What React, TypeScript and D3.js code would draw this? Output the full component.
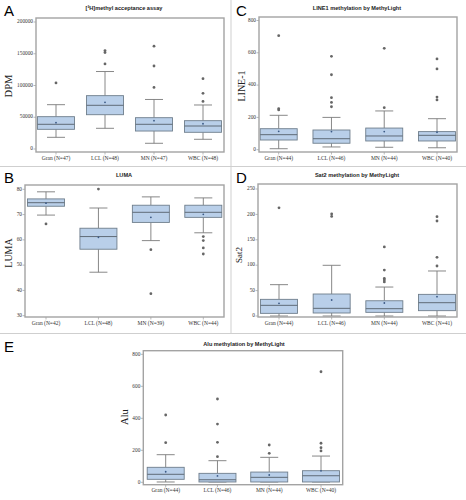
import React from "react";
import * as d3 from "d3";

const CATS = ["Gran", "LCL", "MN", "WBC"];

// Panel A: [3H]methyl acceptance assay (DPM)
const A_N = [47, 48, 47, 48];
const A_LOW = [18400, 32600, 9000, 15300];
const A_Q1 = [31000, 54000, 28300, 26300];
const A_MED = [38900, 68800, 38900, 36200];
const A_Q3 = [50900, 84000, 49300, 44600];
const A_HIGH = [69800, 122000, 78000, 69300];
const A_MEAN = [41400, 73500, 44600, 39800];
const A_OUT = [[104000], [155000, 152000, 134000], [162000, 130700, 97000], [110700, 87700, 75000]];
const A_TICKS = [0, 50000, 100000, 150000, 200000];

// Panel B: LUMA
const B_N = [42, 48, 39, 44];
const B_LOW = [69.8, 47.2, 59.7, 62.8];
const B_Q1 = [73.3, 56.3, 66.9, 68.9];
const B_MED = [74.7, 61.3, 70.9, 70.9];
const B_Q3 = [76.2, 64.6, 73.7, 73.7];
const B_HIGH = [79.0, 72.6, 77.0, 76.6];
const B_MEAN = [74.5, 61.0, 68.9, 70.1];
const B_OUT = [[66.3], [80.1], [56.1, 38.7], [61.3, 59.7, 56.8, 54.4]];
const B_TICKS = [30, 40, 50, 60, 70, 80];

// Panel C: LINE1
const C_N = [44, 46, 44, 40];
const C_LOW = [6, 17, 15, 12];
const C_Q1 = [60, 40, 54, 54];
const C_MED = [93, 68, 85, 89];
const C_Q3 = [130, 122, 134, 112];
const C_HIGH = [213, 200, 240, 192];
const C_MEAN = [114, 112, 112, 108];
const C_OUT = [[706, 254, 246], [578, 464, 322, 293, 266], [628, 260], [562, 500, 326, 308]];
const C_TICKS = [0, 200, 400, 600, 800];

// Panel D: Sat2
const D_N = [44, 46, 44, 41];
const D_LOW = [0, 0, 0, 0];
const D_Q1 = [5.2, 5.9, 7.2, 10.5];
const D_MED = [21, 15.1, 14.4, 26.2];
const D_Q3 = [32.8, 43.3, 30, 42.6];
const D_HIGH = [61.7, 99.8, 57, 88.6];
const D_MEAN = [25, 31.5, 25.6, 38];
const D_OUT = [[213], [200.8, 196], [136, 90.5, 74, 70.9, 67], [195.5, 187, 115.5, 98.4]];
const D_TICKS = [0, 50, 100, 150, 200, 250];

// Panel E: Alu
const E_N = [44, 46, 44, 40];
const E_LOW = [2, 2, 2, 2];
const E_Q1 = [18.7, 2, 2, 2];
const E_MED = [50, 16, 31, 41];
const E_Q3 = [93.7, 56, 64, 72.5];
const E_HIGH = [172.5, 135, 156, 164];
const E_MEAN = [66, 40, 45.6, 72];
const E_OUT = [[420.6, 247.5], [520.6, 364, 250, 160], [233, 181], [691, 244, 216, 196]];
const E_TICKS = [0, 200, 400, 600, 800];

type PanelProps = {
  letter: string;
  letterX: number;
  letterY: number;
  title: string;
  titleX: number;
  titleY: number;
  ylabel: string;
  ylabelX: number;
  ylabelY: number;
  ylabelSize: number;
  frame: [number, number, number, number]; // x0,y0,x1,y1
  yDomain: [number, number];
  yRange: [number, number];
  xRange: [number, number];
  ticks: number[];
  n: number[];
  low: number[];
  q1: number[];
  med: number[];
  q3: number[];
  high: number[];
  mean: number[];
  out: number[][];
};

const BOX_FILL = "#b9cfe9";
const BOX_STROKE = "#6f7e8c";
const WHISK = "#7a7a7a";

function Panel(p: PanelProps) {
  const [fx0, fy0, fx1, fy1] = p.frame;
  const y = d3.scaleLinear().domain(p.yDomain).range(p.yRange);
  const x = d3.scalePoint<string>().domain(CATS).range(p.xRange);
  const bw = 37;
  const cap = 18;
  return (
    <g>
      <text x={p.letterX} y={p.letterY} fontFamily="Liberation Sans, Arial, sans-serif" fontSize={15} fill="#000">
        {p.letter}
      </text>
      <text x={p.titleX} y={p.titleY} textAnchor="middle" fontFamily="Liberation Sans, Arial, sans-serif" fontWeight="bold" fontSize={5.6} fill="#222">
        {p.title}
      </text>
      <text
        transform={`translate(${p.ylabelX},${p.ylabelY}) rotate(-90)`}
        textAnchor="middle"
        dominantBaseline="middle"
        fontFamily="Liberation Serif, Times New Roman, serif"
        fontSize={p.ylabelSize}
        fill="#222"
      >
        {p.ylabel}
      </text>
      {p.ticks.map((t) => (
        <g key={"yt" + t}>
          <line x1={fx0 - 2.5} x2={fx0} y1={y(t)} y2={y(t)} stroke="#888" strokeWidth={0.6} />
          <text x={fx0 - 3} y={y(t)} textAnchor="end" dominantBaseline="middle" fontFamily="Liberation Serif, Times New Roman, serif" fontSize={5.3} fill="#333">
            {t}
          </text>
        </g>
      ))}
      {CATS.map((c, i) => (
        <g key={"xt" + c}>
          <line x1={x(c)} x2={x(c)} y1={fy1} y2={fy1 + 2.5} stroke="#888" strokeWidth={0.6} />
          <text x={x(c)} y={fy1 + 7.5} textAnchor="middle" fontFamily="Liberation Serif, Times New Roman, serif" fontSize={5.5} fill="#333">
            {`${c} (N=${p.n[i]})`}
          </text>
        </g>
      ))}
      {CATS.map((c, i) => {
        const cx = x(c) as number;
        return (
          <g key={"b" + c}>
            <line x1={cx} x2={cx} y1={y(p.q3[i])} y2={y(p.high[i])} stroke={WHISK} strokeWidth={0.9} />
            <line x1={cx} x2={cx} y1={y(p.q1[i])} y2={y(p.low[i])} stroke={WHISK} strokeWidth={0.9} />
            <line x1={cx - cap / 2} x2={cx + cap / 2} y1={y(p.high[i])} y2={y(p.high[i])} stroke={WHISK} strokeWidth={0.9} />
            <line x1={cx - cap / 2} x2={cx + cap / 2} y1={y(p.low[i])} y2={y(p.low[i])} stroke={WHISK} strokeWidth={0.9} />
            <rect x={cx - bw / 2} y={y(p.q3[i])} width={bw} height={y(p.q1[i]) - y(p.q3[i])} fill={BOX_FILL} stroke={BOX_STROKE} strokeWidth={0.9} />
            <line x1={cx - bw / 2} x2={cx + bw / 2} y1={y(p.med[i])} y2={y(p.med[i])} stroke="#5f6b77" strokeWidth={1} />
            <circle cx={cx} cy={y(p.mean[i])} r={0.9} fill="#3b5a86" />
            {p.out[i].map((v, j) => (
              <circle key={j} cx={cx} cy={y(v)} r={1.4} fill="#666" />
            ))}
          </g>
        );
      })}
      <rect x={fx0} y={fy0} width={fx1 - fx0} height={fy1 - fy0} fill="none" stroke="#a3a3a3" strokeWidth={1.4} />
    </g>
  );
}

export default function App() {
  return (
    <svg width={466} height={500} style={{ position: "absolute", left: 0, top: 0, background: "#fff" }}>
      <rect x={0} y={0} width={466} height={500} fill="#fff" />
      <line x1={0} x2={466} y1={166.5} y2={166.5} stroke="#cfcfcf" strokeWidth={1} />
      <line x1={0} x2={466} y1={333.5} y2={333.5} stroke="#cfcfcf" strokeWidth={1} />
      <line x1={231} x2={231} y1={0} y2={333.5} stroke="#cfcfcf" strokeWidth={1} />

      <Panel
        letter="A" letterX={4} letterY={16}
        title="[³H]methyl acceptance assay" titleX={124} titleY={10}
        ylabel="DPM" ylabelX={10} ylabelY={86} ylabelSize={10.5}
        frame={[36, 18, 224, 152]}
        yDomain={[0, 200000]} yRange={[149, 22]} xRange={[56, 203]}
        ticks={A_TICKS} n={A_N}
        low={A_LOW} q1={A_Q1} med={A_MED} q3={A_Q3} high={A_HIGH} mean={A_MEAN} out={A_OUT}
      />
      <Panel
        letter="C" letterX={236} letterY={16}
        title="LINE1 methylation by MethyLight" titleX={357} titleY={10}
        ylabel="LINE-1" ylabelX={243} ylabelY={86} ylabelSize={10}
        frame={[259, 17, 457, 152]}
        yDomain={[0, 800]} yRange={[149.7, 20.5]} xRange={[278.7, 437]}
        ticks={C_TICKS} n={C_N}
        low={C_LOW} q1={C_Q1} med={C_MED} q3={C_Q3} high={C_HIGH} mean={C_MEAN} out={C_OUT}
      />
      <Panel
        letter="B" letterX={4} letterY={183}
        title="LUMA" titleX={124} titleY={177}
        ylabel="LUMA" ylabelX={10} ylabelY={253} ylabelSize={10}
        frame={[25, 185, 224, 317]}
        yDomain={[30, 80]} yRange={[315.7, 189.3]} xRange={[46, 203.3]}
        ticks={B_TICKS} n={B_N}
        low={B_LOW} q1={B_Q1} med={B_MED} q3={B_Q3} high={B_HIGH} mean={B_MEAN} out={B_OUT}
      />
      <Panel
        letter="D" letterX={236} letterY={183}
        title="Sat2 methylation by MethyLight" titleX={357} titleY={177}
        ylabel="Sat2" ylabelX={239.5} ylabelY={255} ylabelSize={9}
        frame={[258, 184, 457, 317]}
        yDomain={[0, 250]} yRange={[316, 189]} xRange={[279, 437]}
        ticks={D_TICKS} n={D_N}
        low={D_LOW} q1={D_Q1} med={D_MED} q3={D_Q3} high={D_HIGH} mean={D_MEAN} out={D_OUT}
      />
      <Panel
        letter="E" letterX={4} letterY={352}
        title="Alu methylation by MethyLight" titleX={244} titleY={345.5}
        ylabel="Alu" ylabelX={126} ylabelY={417} ylabelSize={10.5}
        frame={[143.3, 350.7, 342.7, 484.7]}
        yDomain={[0, 800]} yRange={[482.3, 354.3]} xRange={[165.7, 321]}
        ticks={E_TICKS} n={E_N}
        low={E_LOW} q1={E_Q1} med={E_MED} q3={E_Q3} high={E_HIGH} mean={E_MEAN} out={E_OUT}
      />
    </svg>
  );
}
